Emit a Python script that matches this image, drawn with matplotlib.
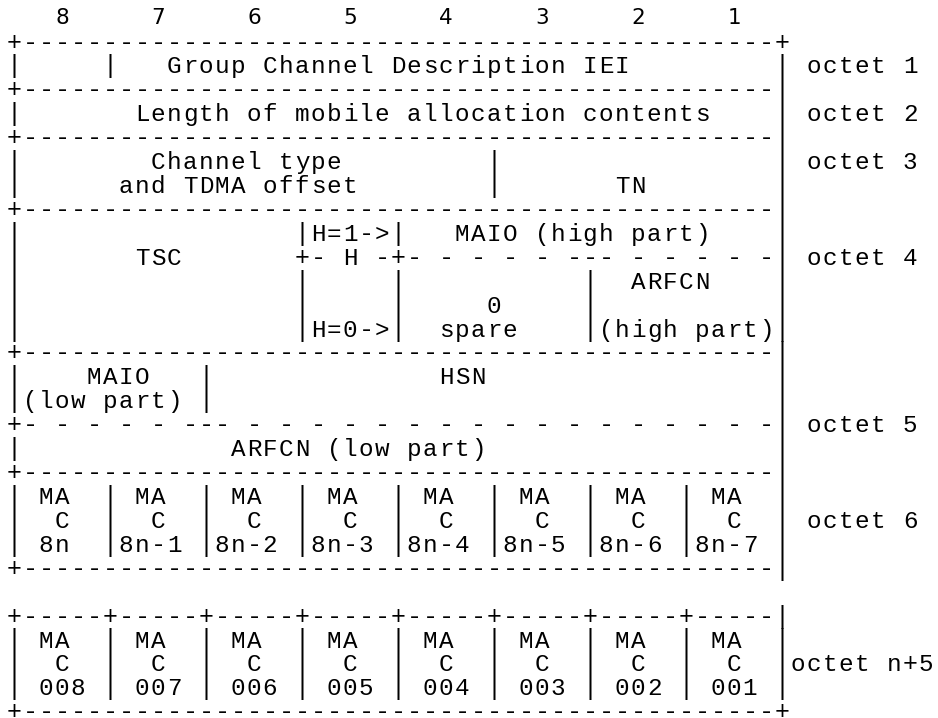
import matplotlib
matplotlib.use('Agg')
import matplotlib.pyplot as plt

# bit numbers over the box
bit_labels = ['8', '7', '6', '5', '4', '3', '2', '1']

rule = '+' + '-' * 47 + '|'

# the ascii layout, one string per text row (49 columns + octet labels)
rows = [
    '+' + '-' * 47 + '+',
    '|     |   Group Channel Description IEI         | octet 1',
    rule,
    '|       Length of mobile allocation contents    | octet 2',
    rule,
    '|        Channel type         |                 | octet 3',
    '|      and TDMA offset        |       TN        |',
    rule,
    '|                 |H=1->|   MAIO (high part)    |',
    '|       TSC       +- H -+- - - - - --- - - - - -| octet 4',
    '|                 |     |           |  ARFCN    |',
    '|                 |     |     0     |           |',
    '|                 |H=0->|  spare    |(high part)|',
    rule,
    '|    MAIO   |              HSN                  |',
    '|(low part) |                                   |',
    '+- - - - - --- - - - - - - - - - - - - - - - - -| octet 5',
    '|             ARFCN (low part)                  |',
    rule,
    '|' + ' MA  |' * 8,
    '|' + '  C  |' * 8 + ' octet 6',
    '| 8n  |8n-1 |8n-2 |8n-3 |8n-4 |8n-5 |8n-6 |8n-7 |',
    rule,
    '',
    '+-----' * 8 + '|',
    '|' + ' MA  |' * 8,
    '|' + '  C  |' * 8 + 'octet n+5',
    '| 008 | 007 | 006 | 005 | 004 | 003 | 002 | 001 |',
    '+' + '-' * 47 + '+',
]

for line in rows:
    if line:
        assert line[48] in '|+', line

W, H = 938, 718
x0, cw = 14, 16          # centre of column 0, column width (px)
y0, rh = 49.5, 23.92     # baseline of the top rule, row pitch (px)
fs_box = 18              # '|', '+', '-' (tall enough for the bars to join)
fs_txt = 17.5            # letters and digits

fig = plt.figure(figsize=(W / 100, H / 100), dpi=100)
fig.patch.set_facecolor('white')

# bit numbers (sans font), one every 6 columns starting at column 3
for i, b in enumerate(bit_labels):
    fig.text((x0 + (3 + 6 * i) * cw) / W, 1 - 24.5 / H, b,
             ha='center', va='baseline', family='DejaVu Sans', size=15.5)

# every character sits centred in its 16 px cell
for r, line in enumerate(rows):
    yb = y0 + r * rh
    for c, ch in enumerate(line):
        if ch == ' ':
            continue
        size = fs_box if ch in '|+-' else fs_txt
        fig.text((x0 + c * cw) / W, 1 - yb / H, ch,
                 ha='center', va='baseline', family='Liberation Mono',
                 size=size, color='black')

fig.savefig('out.png', dpi=100, facecolor='white')
